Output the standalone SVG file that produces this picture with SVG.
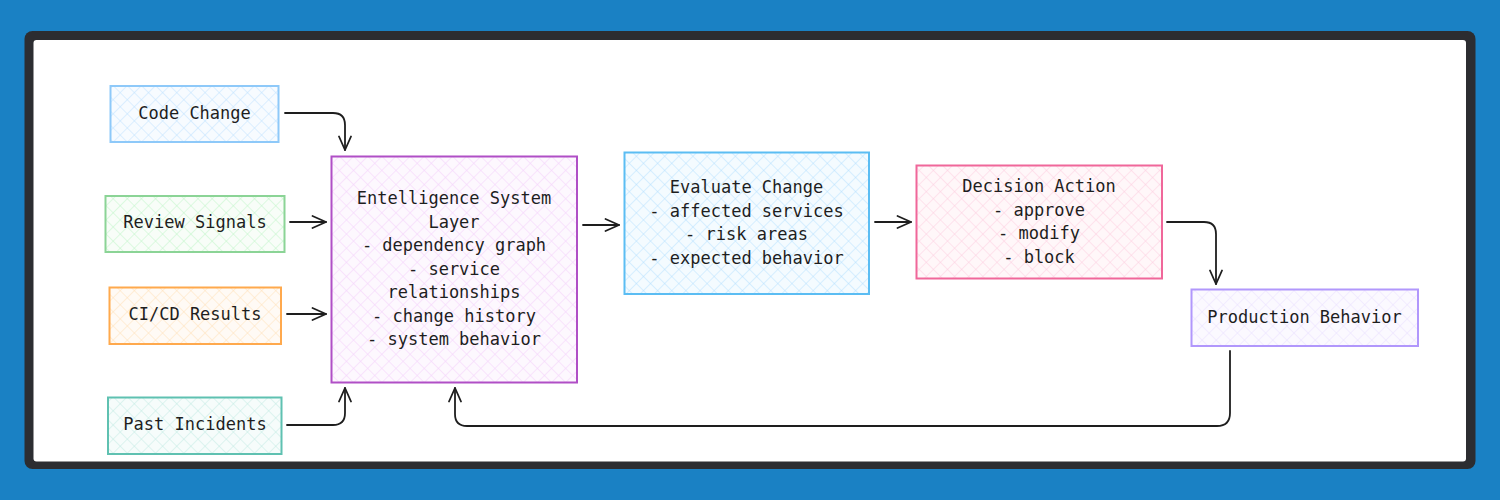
<svg xmlns="http://www.w3.org/2000/svg" width="1500" height="500" viewBox="0 0 1500 500">
<style>
  .lbl{font-family:"DejaVu Sans Mono","Liberation Mono",monospace;font-size:17px;fill:#1e1e1e;text-anchor:middle}
  .edge{fill:none;stroke:#1e1e1e;stroke-width:1.8;stroke-linecap:round;stroke-linejoin:round}
  .box{stroke-width:2}
</style>
<defs>
  <pattern id="hBlue" width="10" height="10" patternUnits="userSpaceOnUse" patternTransform="rotate(45)">
    <rect width="10" height="10" fill="#f7fbff"/>
    <path d="M0 0V10M0 0H10" stroke="#a5d8ff" stroke-width="1" opacity="0.7"/>
  </pattern>
  <pattern id="hGreen" width="10" height="10" patternUnits="userSpaceOnUse" patternTransform="rotate(45)">
    <rect width="10" height="10" fill="#f8fdf8"/>
    <path d="M0 0V10M0 0H10" stroke="#b2f2bb" stroke-width="1" opacity="0.8"/>
  </pattern>
  <pattern id="hOrange" width="10" height="10" patternUnits="userSpaceOnUse" patternTransform="rotate(45)">
    <rect width="10" height="10" fill="#fffaf5"/>
    <path d="M0 0V10M0 0H10" stroke="#ffd8a8" stroke-width="1" opacity="0.8"/>
  </pattern>
  <pattern id="hTeal" width="10" height="10" patternUnits="userSpaceOnUse" patternTransform="rotate(45)">
    <rect width="10" height="10" fill="#f6fcfb"/>
    <path d="M0 0V10M0 0H10" stroke="#b3e6dc" stroke-width="1" opacity="0.8"/>
  </pattern>
  <pattern id="hPurple" width="10" height="10" patternUnits="userSpaceOnUse" patternTransform="rotate(45)">
    <rect width="10" height="10" fill="#fdf8fe"/>
    <path d="M0 0V10M0 0H10" stroke="#eebefa" stroke-width="1" opacity="0.7"/>
  </pattern>
  <pattern id="hSky" width="10" height="10" patternUnits="userSpaceOnUse" patternTransform="rotate(45)">
    <rect width="10" height="10" fill="#f4fbff"/>
    <path d="M0 0V10M0 0H10" stroke="#a5d8ff" stroke-width="1" opacity="0.8"/>
  </pattern>
  <pattern id="hPink" width="10" height="10" patternUnits="userSpaceOnUse" patternTransform="rotate(45)">
    <rect width="10" height="10" fill="#fff7f9"/>
    <path d="M0 0V10M0 0H10" stroke="#fcc2d7" stroke-width="1" opacity="0.8"/>
  </pattern>
  <pattern id="hLav" width="10" height="10" patternUnits="userSpaceOnUse" patternTransform="rotate(45)">
    <rect width="10" height="10" fill="#fbf9ff"/>
    <path d="M0 0V10M0 0H10" stroke="#e5dbff" stroke-width="1" opacity="0.9"/>
  </pattern>
  <marker id="arr" viewBox="0 0 16 16" refX="15" refY="8" markerWidth="16" markerHeight="16" markerUnits="userSpaceOnUse" orient="auto">
    <path d="M1.5 2L15 8L1.5 14" fill="none" stroke="#1e1e1e" stroke-width="1.8" stroke-linecap="round" stroke-linejoin="round"/>
  </marker>
</defs>

<!-- background and frame -->
<rect x="0" y="0" width="1500" height="500" fill="#1a81c4"/>
<rect x="24.5" y="31" width="1451" height="438" rx="8" fill="#2c2d31"/>
<rect x="33.5" y="40" width="1432.5" height="421.5" rx="3" fill="#ffffff"/>

<g id="connectors">
  <path class="edge" marker-end="url(#arr)" d="M285 113H333Q345 113 345 125V150"/>
  <path class="edge" marker-end="url(#arr)" d="M290 222H326"/>
  <path class="edge" marker-end="url(#arr)" d="M287 314H326"/>
  <path class="edge" marker-end="url(#arr)" d="M287 425H333Q345 425 345 413V388"/>
  <path class="edge" marker-end="url(#arr)" d="M583 225H619"/>
  <path class="edge" marker-end="url(#arr)" d="M875 222H911"/>
  <path class="edge" marker-end="url(#arr)" d="M1167 222H1204Q1216 222 1216 234V284"/>
  <path class="edge" marker-end="url(#arr)" d="M1230 351V413Q1230 426 1217 426H467Q455 426 455 414V388"/>
</g>

<g id="code-change">
  <rect class="box" x="110.5" y="86" width="168" height="56" fill="url(#hBlue)" stroke="#8ec9f9"/>
  <text class="lbl" x="194.5" y="119">Code Change</text>
</g>
<g id="review-signals">
  <rect class="box" x="105.5" y="196" width="179" height="56" fill="url(#hGreen)" stroke="#8bd496"/>
  <text class="lbl" x="195" y="228">Review Signals</text>
</g>
<g id="cicd-results">
  <rect class="box" x="109.5" y="287.5" width="171.5" height="56.5" fill="url(#hOrange)" stroke="#ffa94d"/>
  <text class="lbl" x="195" y="320">CI/CD Results</text>
</g>
<g id="past-incidents">
  <rect class="box" x="108" y="397.5" width="173.5" height="56.5" fill="url(#hTeal)" stroke="#5fc1b1"/>
  <text class="lbl" x="195" y="430">Past Incidents</text>
</g>
<g id="entelligence">
  <rect class="box" x="331.5" y="156.5" width="245.5" height="226" fill="url(#hPurple)" stroke="#b04fc6"/>
  <text class="lbl" x="454" y="204">Entelligence System</text>
  <text class="lbl" x="454" y="227.5">Layer</text>
  <text class="lbl" x="454" y="251">- dependency graph</text>
  <text class="lbl" x="454" y="274.5">- service</text>
  <text class="lbl" x="454" y="298">relationships</text>
  <text class="lbl" x="454" y="321.5">- change history</text>
  <text class="lbl" x="454" y="345">- system behavior</text>
</g>
<g id="evaluate-change">
  <rect class="box" x="624.5" y="152.5" width="244.5" height="141.5" fill="url(#hSky)" stroke="#5bbdf3"/>
  <text class="lbl" x="746.5" y="193">Evaluate Change</text>
  <text class="lbl" x="746.5" y="216.5">- affected services</text>
  <text class="lbl" x="746.5" y="240">- risk areas</text>
  <text class="lbl" x="746.5" y="263.5">- expected behavior</text>
</g>
<g id="decision-action">
  <rect class="box" x="916.5" y="165.5" width="245.5" height="113" fill="url(#hPink)" stroke="#f0679a"/>
  <text class="lbl" x="1039" y="192">Decision Action</text>
  <text class="lbl" x="1039" y="215.5">- approve</text>
  <text class="lbl" x="1039" y="239">- modify</text>
  <text class="lbl" x="1039" y="262.5">- block</text>
</g>
<g id="production-behavior">
  <rect class="box" x="1191.5" y="289.5" width="226.5" height="56.5" fill="url(#hLav)" stroke="#b197fc"/>
  <text class="lbl" x="1304.5" y="323">Production Behavior</text>
</g>
</svg>
